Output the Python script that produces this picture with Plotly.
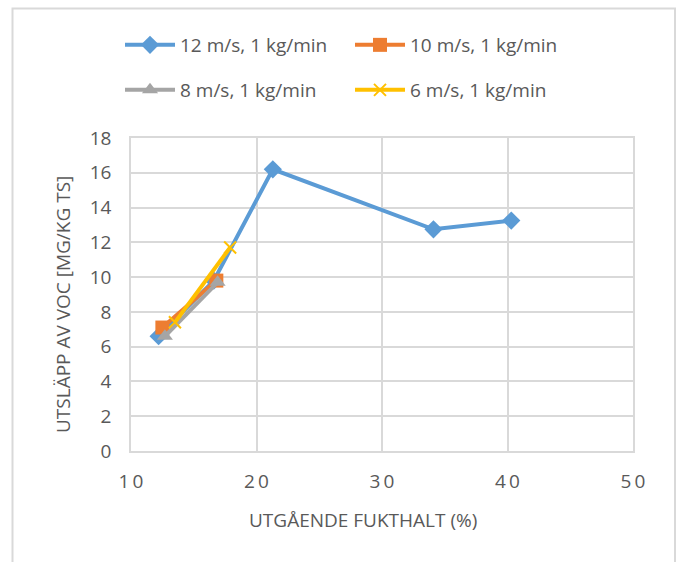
import plotly.graph_objects as go

# Data
names = ["12 m/s, 1 kg/min", "10 m/s, 1 kg/min", "8 m/s, 1 kg/min", "6 m/s, 1 kg/min"]
x_12 = [12.2, 16.6, 21.3, 34.1, 40.3]
y_12 = [6.6, 9.8, 16.2, 12.75, 13.25]
x_10 = [12.5, 16.8]
y_10 = [7.1, 9.8]
x_8 = [12.7, 16.9]
y_8 = [6.6, 9.7]
x_6 = [13.5, 17.9]
y_6 = [7.4, 11.7]
x_ticks = [10, 20, 30, 40, 50]
x_ticktext = ["1\u20090", "2\u20090", "3\u20090", "4\u20090", "5\u20090"]
y_ticks = [0, 2, 4, 6, 8, 10, 12, 14, 16, 18]
x_title = "UTGÅENDE FUKTHALT (%)"
y_title = "UTSLÄPP AV VOC [MG/KG TS]"

colors = ["#5B9BD5", "#ED7D31", "#A5A5A5", "#FFC000"]
symbols = ["diamond", "square", "triangle-up", "x-thin"]
sizes = [14, 14, 14, 12]
xs = [x_12, x_10, x_8, x_6]
ys = [y_12, y_10, y_8, y_6]
legends = ["legend", "legend", "legend2", "legend2"]

fig = go.Figure()
for i in range(4):
    marker = dict(symbol=symbols[i], size=sizes[i], color=colors[i])
    if symbols[i] == "x-thin":
        marker["line"] = dict(color=colors[i], width=2)
    fig.add_trace(go.Scatter(
        x=xs[i], y=ys[i], name=names[i], mode="lines+markers",
        line=dict(color=colors[i], width=4),
        marker=marker, legend=legends[i],
    ))

font_family = "Open Sans, Liberation Sans, sans-serif"
fs = 19
L, R, T, B = 131, 54, 138, 111
pw = 687 - L - R
ph = 562 - T - B

def px_x(p):
    return (p - L) / pw

def px_y(p):
    return (562 - B - p) / ph

legend_common = dict(
    orientation="h", xanchor="left", yanchor="middle",
    font=dict(family=font_family, size=fs, color="#595959"),
    entrywidth=165, entrywidthmode="pixels",
    bgcolor="rgba(0,0,0,0)", itemwidth=50,
)

fig.update_layout(
    width=687, height=562,
    margin=dict(l=L, r=R, t=T, b=B),
    paper_bgcolor="white", plot_bgcolor="white",
    font=dict(family=font_family, color="#595959"),
    showlegend=True,
    legend=dict(x=px_x(120), y=px_y(45), **legend_common),
    legend2=dict(x=px_x(120), y=px_y(90), **legend_common),
    xaxis=dict(
        range=[10, 50], tickvals=x_ticks, ticktext=x_ticktext,
        showgrid=True, gridcolor="#D9D9D9", gridwidth=1.5,
        showline=True, linecolor="#D9D9D9", linewidth=1.5, mirror=True,
        zeroline=False, ticks="", ticklabelstandoff=12,
        tickfont=dict(size=fs, color="#595959"),
    ),
    yaxis=dict(
        range=[0, 18], tickvals=y_ticks,
        showgrid=True, gridcolor="#D9D9D9", gridwidth=1.5,
        showline=True, linecolor="#D9D9D9", linewidth=1.5, mirror=True,
        zeroline=False, ticks="", ticklabelstandoff=14,
        tickfont=dict(size=fs, color="#595959"),
    ),
    annotations=[
        dict(text=x_title, xref="paper", yref="paper", x=px_x(363), y=px_y(520),
             xanchor="center", yanchor="middle", showarrow=False,
             font=dict(family=font_family, size=fs, color="#595959")),
        dict(text=y_title, xref="paper", yref="paper", x=px_x(63), y=px_y(305),
             xanchor="center", yanchor="middle", showarrow=False, textangle=-90,
             font=dict(family=font_family, size=fs, color="#595959")),
    ],
    shapes=[dict(
        type="rect", xref="paper", yref="paper",
        x0=px_x(12.5), x1=px_x(675), y0=px_y(600), y1=px_y(8.5),
        line=dict(color="#D9D9D9", width=2), fillcolor="rgba(0,0,0,0)", layer="below",
    )],
)

fig.write_html("out.html")
